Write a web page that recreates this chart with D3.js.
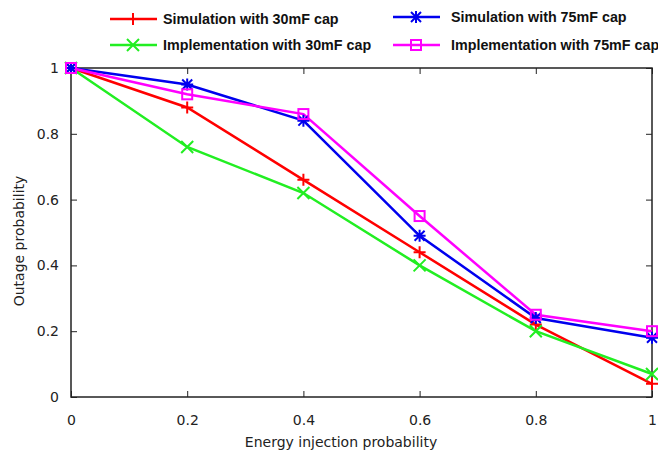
<!DOCTYPE html>
<meta charset="utf-8">
<style>
body { margin: 0; background: #fff; }
.tick text { font: 14px "DejaVu Sans", Verdana, sans-serif; fill: #222; }
.axis-label { font: 14px "DejaVu Sans", Verdana, sans-serif; fill: #222; }
.legend text { font: bold 14.3px "Liberation Sans", Arial, sans-serif; fill: #111; }
</style>
<svg width="658" height="450"></svg>
<script src="https://d3js.org/d3.v7.min.js"></script>
<script>

// data
var xs = [0, 0.2, 0.4, 0.6, 0.8, 1];
var sim30 = [1, 0.88, 0.66, 0.44, 0.22, 0.04];
var impl30 = [1, 0.76, 0.62, 0.40, 0.20, 0.07];
var sim75 = [1, 0.95, 0.84, 0.49, 0.24, 0.18];
var impl75 = [1, 0.92, 0.86, 0.55, 0.25, 0.20];
var xTicks = [0, 0.2, 0.4, 0.6, 0.8, 1];
var yTicks = [0, 0.2, 0.4, 0.6, 0.8, 1];

var series = [
  {name: "Simulation with 30mF cap", values: sim30, color: "#ff0000", marker: "plus"},
  {name: "Implementation with 30mF cap", values: impl30, color: "#22ee22", marker: "cross"},
  {name: "Simulation with 75mF cap", values: sim75, color: "#0000ee", marker: "star"},
  {name: "Implementation with 75mF cap", values: impl75, color: "#ff00ff", marker: "square"}
];

var svg = d3.select("svg"),
    margin = {top: 68, right: 6, bottom: 53, left: 71},
    width = +svg.attr("width") - margin.left - margin.right,
    height = +svg.attr("height") - margin.top - margin.bottom;

var x = d3.scaleLinear().domain([0, 1]).range([0, width]);
var y = d3.scaleLinear().domain([0, 1]).range([height, 0]);

var g = svg.append("g")
    .attr("transform", "translate(" + margin.left + "," + margin.top + ")");

// frame
g.append("rect")
    .attr("width", width)
    .attr("height", height)
    .attr("fill", "none")
    .attr("stroke", "#222")
    .attr("stroke-width", 1.5);

var fmt = function(d) { return d === 0 || d === 1 ? String(d) : d3.format(".1f")(d); };

g.append("g")
    .attr("transform", "translate(0," + height + ")")
    .call(d3.axisBottom(x).tickValues(xTicks).tickFormat(fmt).tickSize(-6).tickPadding(18));
g.append("g")
    .call(d3.axisTop(x).tickValues(xTicks).tickFormat("").tickSize(-6));
g.append("g")
    .call(d3.axisLeft(y).tickValues(yTicks).tickFormat(fmt).tickSize(-6).tickPadding(12));
g.append("g")
    .attr("transform", "translate(" + width + ",0)")
    .call(d3.axisRight(y).tickValues(yTicks).tickFormat("").tickSize(-6));

g.selectAll(".domain").remove();
g.selectAll(".tick line").attr("stroke", "#222").attr("stroke-width", 1);

svg.append("text")
    .attr("class", "axis-label")
    .attr("text-anchor", "middle")
    .attr("x", 341)
    .attr("y", 447)
    .text("Energy injection probability");

svg.append("text")
    .attr("class", "axis-label")
    .attr("text-anchor", "middle")
    .attr("transform", "translate(24,241) rotate(-90)")
    .text("Outage probability");

function drawMarker(sel, type, color) {
  var s = 6;
  if (type === "plus") {
    sel.append("path").attr("d", "M" + -s + ",0H" + s + "M0," + -s + "V" + s);
  } else if (type === "cross") {
    sel.append("path").attr("d", "M" + -s + "," + -s + "L" + s + "," + s + "M" + -s + "," + s + "L" + s + "," + -s);
  } else if (type === "star") {
    var a = 5;
    sel.append("path").attr("d", "M" + -s + ",0H" + s + "M0," + -s + "V" + s +
        "M" + -a + "," + -a + "L" + a + "," + a + "M" + -a + "," + a + "L" + a + "," + -a);
  } else if (type === "square") {
    sel.append("rect").attr("x", -5).attr("y", -5).attr("width", 10).attr("height", 10);
  }
  sel.selectAll("path, rect")
      .attr("fill", "none")
      .attr("stroke", color)
      .attr("stroke-width", 2);
}

var line = d3.line()
    .x(function(d, i) { return x(xs[i]); })
    .y(function(d) { return y(d); });

var plot = g.append("g");
series.forEach(function(s) {
  plot.append("path")
      .datum(s.values)
      .attr("fill", "none")
      .attr("stroke", s.color)
      .attr("stroke-width", 2.5)
      .attr("d", line);
});
series.forEach(function(s) {
  s.values.forEach(function(v, i) {
    var m = plot.append("g").attr("transform", "translate(" + x(xs[i]) + "," + y(v) + ")");
    drawMarker(m, s.marker, s.color);
  });
});

// legend
var legendPos = [
  {lx: 110, ty: 19, tx: 53},
  {lx: 110, ty: 45, tx: 53},
  {lx: 393, ty: 17, tx: 58},
  {lx: 393, ty: 45, tx: 58}
];
var legend = svg.append("g").attr("class", "legend");
series.forEach(function(s, i) {
  var p = legendPos[i];
  var lg = legend.append("g").attr("transform", "translate(" + p.lx + "," + p.ty + ")");
  lg.append("line")
      .attr("x1", 0).attr("x2", 47)
      .attr("stroke", s.color)
      .attr("stroke-width", 2.5);
  var m = lg.append("g").attr("transform", "translate(23,0)");
  drawMarker(m, s.marker, s.color);
  lg.append("text")
      .attr("x", p.tx)
      .attr("dy", "0.35em")
      .text(s.name);
});

</script>
